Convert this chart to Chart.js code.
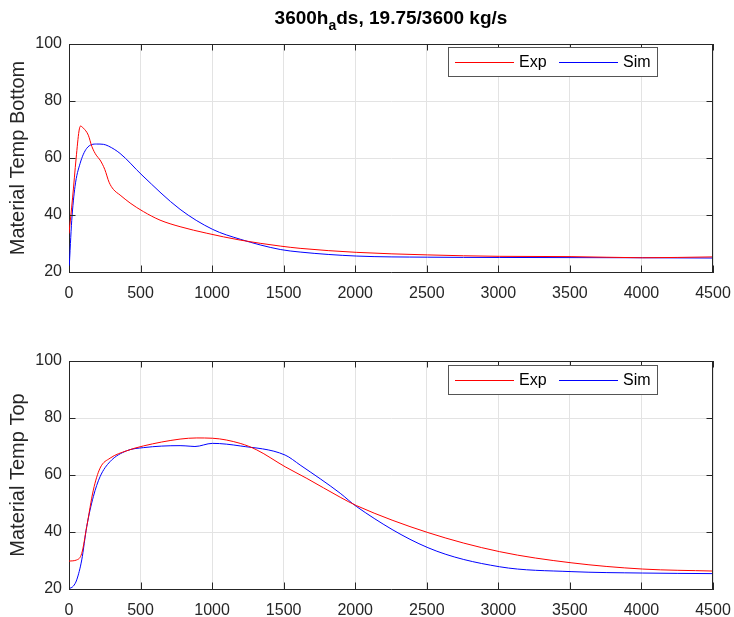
<!DOCTYPE html>
<html>
<head>
<meta charset="utf-8">
<script src="https://cdn.jsdelivr.net/npm/chart.js@4.4.1/dist/chart.umd.min.js"></script>
<style>
  body { margin: 0; background: #fff; }
  #wrap { position: relative; width: 734px; height: 617px; background: #fff; font-family: "Liberation Sans", Arial, sans-serif; }
  #title { position: absolute; left: 69px; width: 644px; top: 7px; text-align: center; font-weight: bold; font-size: 19px; color: #000; }
  #title sub { font-size: 14px; vertical-align: -6px; line-height: 0; }
  .box { position: absolute; left: 0; }
</style>
</head>
<body>
<div id="wrap">
  <div class="box" style="top:0;height:310px"><canvas id="chartBottom" width="734" height="310"></canvas></div>
  <div class="box" style="top:310px;height:307px"><canvas id="chartTop" width="734" height="307"></canvas></div>
  <div id="title">3600h<sub>a</sub>ds, 19.75/3600 kg/s</div>
</div>
<script>
// axis ticks
var xTicks = [0, 500, 1000, 1500, 2000, 2500, 3000, 3500, 4000, 4500];
var yTicks = [20, 40, 60, 80, 100];
var seriesNames = ['Exp', 'Sim'];
var seriesColors = ['#ff0000', '#0000ff'];

// bottom material temperature
var botExpX = [0, 25, 50, 70, 80, 100, 135, 160, 190, 217, 250, 280, 310, 357, 427, 520, 636, 776, 963, 1196, 1476, 1615, 2007, 2506, 3007, 3508, 4009, 4500];
var botExpY = [33.5, 46, 60, 69.5, 71.2, 70.5, 68, 64, 61, 59.3, 56, 51.5, 49, 47, 44.2, 41.2, 38.2, 35.9, 33.6, 31.2, 29.1, 28.3, 26.9, 26, 25.5, 25.4, 25.0, 25.3];
var botSimX = [0, 10, 19, 42, 77, 124, 193, 240, 275, 357, 510, 776, 1002, 1196, 1476, 1615, 2007, 2506, 3007, 4009, 4500];
var botSimY = [20, 30, 38, 50, 58, 63.4, 64.9, 64.8, 64.2, 61.6, 54, 42, 35, 31.5, 27.9, 27.0, 25.6, 25.2, 25.1, 25.0, 24.9];

// top material temperature
var topExpX = [0, 54, 89, 124, 170, 217, 287, 403, 520, 776, 893, 1002, 1196, 1312, 1510, 1662, 1895, 2007, 2508, 3009, 3508, 4009, 4500];
var topExpY = [29.8, 30.2, 32.5, 41.9, 54.7, 62.4, 65.9, 68.5, 70.2, 72.6, 73, 72.9, 71.1, 68.8, 62.9, 58.8, 52.2, 49.3, 39.8, 33.1, 29.2, 27.0, 26.3];
var topSimX = [0, 30, 54, 89, 124, 170, 217, 287, 403, 520, 776, 846, 880, 1002, 1196, 1510, 1615, 1895, 2007, 2508, 3009, 3508, 4009, 4500];
var topSimY = [20.1, 21, 23.2, 30.2, 41.9, 52.4, 59.4, 64.7, 68.5, 69.6, 70.3, 70.1, 70.0, 71.1, 70.2, 67, 63.5, 53.6, 49, 34.5, 27.8, 26.1, 25.6, 25.4];

var FONT = '"Liberation Sans", Arial, sans-serif';
var AXIS = '#262626';

function pts(xs, ys) {
    return xs.map(function (x, i) { return { x: x, y: ys[i] }; });
}

function getData(i, xs, ys) {
    return {
        label: seriesNames[i],
        data: pts(xs, ys),
        borderColor: seriesColors[i],
        backgroundColor: seriesColors[i],
        borderWidth: 1,
        pointRadius: 0,
        fill: false,
        cubicInterpolationMode: 'monotone'
    };
}

// MATLAB style box, inward ticks and legend
var matlabBox = {
    id: 'matlabBox',
    afterDraw: function (chart, args, opts) {
        var ctx = chart.ctx, a = chart.chartArea;
        var xs = chart.scales.x, ys = chart.scales.y;
        var len = 6.5;
        ctx.save();
        ctx.strokeStyle = AXIS;
        ctx.lineWidth = 1;
        ctx.beginPath();
        ctx.moveTo(a.left, a.top + 0.5); ctx.lineTo(a.right, a.top + 0.5);
        ctx.moveTo(a.right - 0.5, a.top); ctx.lineTo(a.right - 0.5, a.bottom);
        xTicks.forEach(function (v) {
            var p = Math.round(xs.getPixelForValue(v)) + 0.5;
            ctx.moveTo(p, a.bottom); ctx.lineTo(p, a.bottom - len);
            ctx.moveTo(p, a.top); ctx.lineTo(p, a.top + len);
        });
        yTicks.forEach(function (v) {
            var p = Math.round(ys.getPixelForValue(v)) + 0.5;
            ctx.moveTo(a.left, p); ctx.lineTo(a.left + len, p);
            ctx.moveTo(a.right, p); ctx.lineTo(a.right - len, p);
        });
        ctx.stroke();

        // legend
        var bx = Math.round(a.left + 379) + 0.5, by = Math.round(a.top + opts.legendTop) + 0.5, bw = 209, bh = 29;
        ctx.fillStyle = '#fff';
        ctx.fillRect(bx, by, bw, bh);
        ctx.strokeStyle = '#555';
        ctx.strokeRect(bx, by, bw, bh);
        ctx.font = '16px ' + FONT;
        ctx.textBaseline = 'middle';
        var my = Math.round(by + bh / 2);
        var offs = [6, 110];
        seriesNames.forEach(function (name, i) {
            var x0 = Math.round(bx + offs[i]);
            ctx.fillStyle = seriesColors[i];
            ctx.fillRect(x0, my, 59, 1);
            ctx.fillStyle = '#000';
            ctx.fillText(name, x0 + 64, my + 1);
        });
        ctx.restore();
    }
};

function createGraphic(content, yTitle, datasets, padTop, xAxisH, legendTop) {
    var ctx = document.getElementById(content);
    return new Chart(ctx, {
        type: 'line',
        data: { datasets: datasets },
        options: {
            responsive: false,
            animation: false,
            layout: { padding: { left: 0, right: 21, top: padTop, bottom: 0 } },
            plugins: { legend: { display: false }, tooltip: { enabled: false }, matlabBox: { legendTop: legendTop } },
            scales: {
                x: {
                    type: 'linear', min: 0, max: 4500,
                    afterBuildTicks: function (s) { s.ticks = xTicks.map(function (v) { return { value: v }; }); },
                    afterFit: function (s) { s.height = xAxisH; s.paddingLeft = 0; s.paddingRight = 0; },
                    grid: { color: '#e3e3e3', drawTicks: false },
                    border: { display: true, color: AXIS, width: 1 },
                    ticks: { color: AXIS, padding: 12, maxRotation: 0, font: { family: FONT, size: 16 },
                             callback: function (v) { return String(v); } }
                },
                y: {
                    min: 20, max: 100,
                    afterBuildTicks: function (s) { s.ticks = yTicks.map(function (v) { return { value: v }; }); },
                    afterFit: function (s) { s.width = 69; },
                    grid: { color: '#e3e3e3', drawTicks: false },
                    border: { display: true, color: AXIS, width: 1 },
                    ticks: { color: AXIS, padding: 7, font: { family: FONT, size: 16 },
                             callback: function (v) { return String(v); } },
                    title: { display: true, text: yTitle, color: AXIS, padding: { top: 6, bottom: 0 }, font: { family: FONT, size: 20 } }
                }
            }
        },
        plugins: [matlabBox]
    });
}

createGraphic('chartBottom', 'Material Temp Bottom',
    [getData(0, botExpX, botExpY), getData(1, botSimX, botSimY)], 44, 38, 3);
createGraphic('chartTop', 'Material Temp Top',
    [getData(0, topExpX, topExpY), getData(1, topSimX, topSimY)], 51, 28, 4);
</script>
</body>
</html>
